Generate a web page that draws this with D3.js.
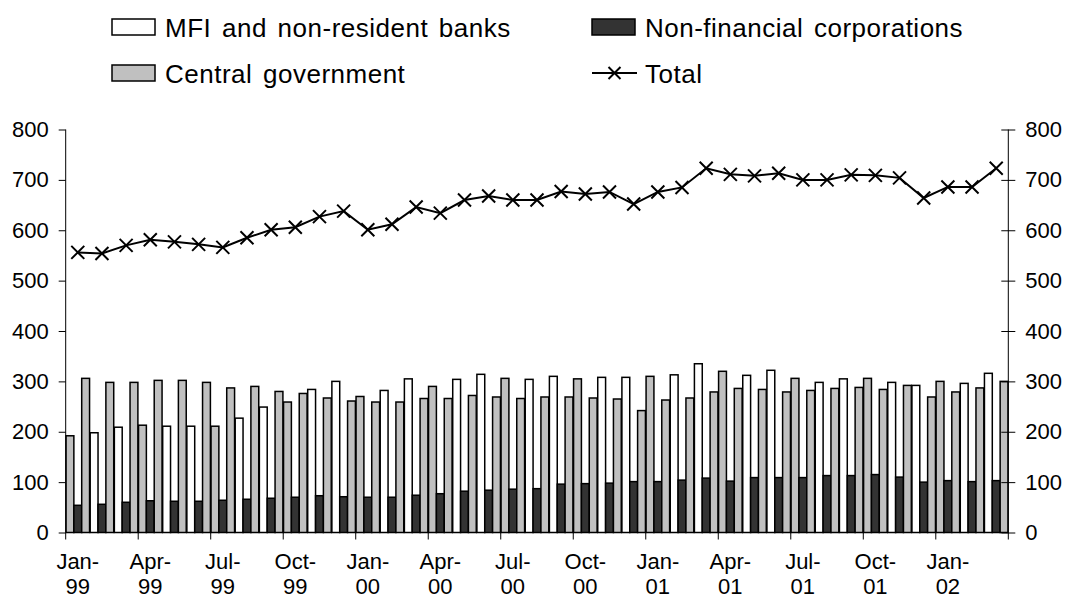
<!DOCTYPE html>
<html>
<head>
<meta charset="utf-8">
<script src="https://cdn.jsdelivr.net/npm/d3@7"></script>
<style>
  html, body { margin: 0; padding: 0; background: #fff; }
  svg { display: block; font-family: "Liberation Sans", Arial, sans-serif; }
</style>
</head>
<body>
<svg id="chart" width="1066" height="600"></svg>
<script>
// Monthly categories, Jan-99 .. Mar-02
const months = [
  "Jan-99","Feb-99","Mar-99","Apr-99","May-99","Jun-99","Jul-99","Aug-99","Sep-99","Oct-99","Nov-99","Dec-99",
  "Jan-00","Feb-00","Mar-00","Apr-00","May-00","Jun-00","Jul-00","Aug-00","Sep-00","Oct-00","Nov-00","Dec-00",
  "Jan-01","Feb-01","Mar-01","Apr-01","May-01","Jun-01","Jul-01","Aug-01","Sep-01","Oct-01","Nov-01","Dec-01",
  "Jan-02","Feb-02","Mar-02"
];

// MFI and non-resident banks
const mfi = [192,198,209,213,211,211,211,227,249,259,284,300,
             270,282,305,290,304,314,306,304,310,305,308,308,
             310,313,335,320,312,322,306,298,305,306,298,292,
             300,296,316];

// Non-financial corporations
const nfc = [54,56,60,63,62,62,64,66,68,70,73,71,
             70,70,74,77,82,84,86,87,96,97,98,101,
             101,104,108,102,109,109,109,113,113,115,110,100,
             103,101,103];

// Central government
const cg = [306,298,298,302,302,298,287,290,280,276,267,261,
            259,259,266,266,272,269,266,269,269,267,265,242,
            263,267,279,286,284,279,282,286,288,284,292,269,
            279,287,300];

// Total
const total = [556,554,570,581,577,572,566,585,601,606,627,638,
               601,612,646,634,660,668,660,660,677,672,676,652,
               676,685,723,711,708,713,700,700,710,709,704,664,
               686,686,723];

const yTicks = [0,100,200,300,400,500,600,700,800];
const seriesNames = ["MFI and non-resident banks","Non-financial corporations","Central government","Total"];

// ---- layout ----
const svg = d3.select("#chart");
const plotL = 65.7, plotR = 1008.3, plotT = 129.5, plotB = 532.5;
const colWhite = "#ffffff", colDark = "#333333", colGray = "#c0c0c0";

const x = d3.scaleBand().domain(months).range([plotL, plotR]).padding(0);
const y = d3.scaleLinear().domain([0, 800]).range([plotB, plotT]);
const sub = d3.scaleBand().domain([0,1,2]).range([0, x.bandwidth()]).paddingInner(0).paddingOuter(0.04);

const rows = months.map((m, i) => ({ m, i, vals: [mfi[i], nfc[i], cg[i]] }));

// ---- bars ----
const g = svg.append("g");
rows.forEach(r => {
  r.vals.forEach((v, s) => {
    let fill = s === 0 ? colWhite : s === 1 ? colDark : colGray;
    // the first bar of each quarter is shaded
    if (s === 0 && r.i % 3 === 0) fill = colGray;
    g.append("rect")
      .attr("x", x(r.m) + sub(s))
      .attr("y", y(v))
      .attr("width", sub.bandwidth())
      .attr("height", y(0) - y(v))
      .attr("fill", fill)
      .attr("stroke", "#000")
      .attr("stroke-width", 1.5);
  });
});

// ---- axes ----
const fs = "22px";
const yAxisL = d3.axisLeft(y).tickValues(yTicks).tickSize(7).tickPadding(10);
const gl = svg.append("g").attr("transform", `translate(${plotL},0)`).call(yAxisL);
gl.selectAll("text").attr("font-size", fs).attr("fill", "#000").attr("font-family", "Liberation Sans, Arial, sans-serif");
gl.selectAll("line, path").attr("stroke", "#000").attr("stroke-width", 1);

const yAxisR = d3.axisRight(y).tickValues(yTicks).tickSize(7).tickPadding(10);
const gr = svg.append("g").attr("transform", `translate(${plotR},0)`).call(yAxisR);
gr.selectAll("text").attr("font-size", fs).attr("fill", "#000").attr("font-family", "Liberation Sans, Arial, sans-serif");
gr.selectAll("line, path").attr("stroke", "#000").attr("stroke-width", 1);
gr.selectAll(".tick line").attr("x1", -7);
gl.select(".domain").remove();
gr.select(".domain").remove();
svg.append("line").attr("x1", plotL).attr("x2", plotL).attr("y1", plotT).attr("y2", plotB).attr("stroke", "#000");
svg.append("line").attr("x1", plotR).attr("x2", plotR).attr("y1", plotT).attr("y2", plotB).attr("stroke", "#000");

// x axis baseline and quarterly ticks
svg.append("line").attr("x1", plotL).attr("x2", plotR).attr("y1", plotB).attr("y2", plotB).attr("stroke", "#000");
const quarterIdx = months.map((m, i) => i).filter(i => i % 3 === 0);
quarterIdx.concat([months.length]).forEach(i => {
  const xp = i < months.length ? x(months[i]) : plotR;
  svg.append("line").attr("x1", xp).attr("x2", xp).attr("y1", plotB).attr("y2", plotB + 7).attr("stroke", "#000");
});
quarterIdx.forEach(i => {
  const [mon, yr] = months[i].split("-");
  const cx = x(months[i]) + x.bandwidth() / 2;
  const t = svg.append("text").attr("x", cx).attr("text-anchor", "middle").attr("font-size", fs).attr("fill", "#000");
  t.append("tspan").attr("x", cx).attr("y", 569).text(mon + "-");
  t.append("tspan").attr("x", cx).attr("y", 594).text(yr);
});

// ---- total line ----
const line = d3.line().x((d, i) => x(months[i]) + x.bandwidth() / 2).y(d => y(d));
svg.append("path").datum(total).attr("d", line).attr("fill", "none").attr("stroke", "#000").attr("stroke-width", 2);

function cross(sel, cx, cy, r) {
  sel.append("path")
    .attr("d", `M${cx - r},${cy - r}L${cx + r},${cy + r}M${cx - r},${cy + r}L${cx + r},${cy - r}`)
    .attr("stroke", "#000").attr("stroke-width", 2).attr("fill", "none");
}
total.forEach((v, i) => cross(svg, x(months[i]) + x.bandwidth() / 2, y(v), 6.5));

// ---- legend ----
const leg = svg.append("g").attr("font-size", "26px").attr("fill", "#000");
const legItems = [
  { name: seriesNames[0], fill: colWhite, lx: 112, ly: 19 },
  { name: seriesNames[1], fill: colDark,  lx: 592, ly: 19 },
  { name: seriesNames[2], fill: colGray,  lx: 112, ly: 65 },
  { name: seriesNames[3], fill: null,     lx: 592, ly: 65 }
];
legItems.forEach(it => {
  if (it.fill) {
    leg.append("rect").attr("x", it.lx).attr("y", it.ly).attr("width", 43).attr("height", 16)
      .attr("fill", it.fill).attr("stroke", "#000").attr("stroke-width", 1.5);
  } else {
    leg.append("line").attr("x1", it.lx).attr("x2", it.lx + 45).attr("y1", it.ly + 8).attr("y2", it.ly + 8)
      .attr("stroke", "#000").attr("stroke-width", 2);
    cross(leg, it.lx + 22.5, it.ly + 8, 6);
  }
  leg.append("text").attr("x", it.lx + 53).attr("y", it.ly + 18)
    .attr("letter-spacing", "0.5px").attr("word-spacing", "3px").text(it.name);
});
</script>
</body>
</html>
